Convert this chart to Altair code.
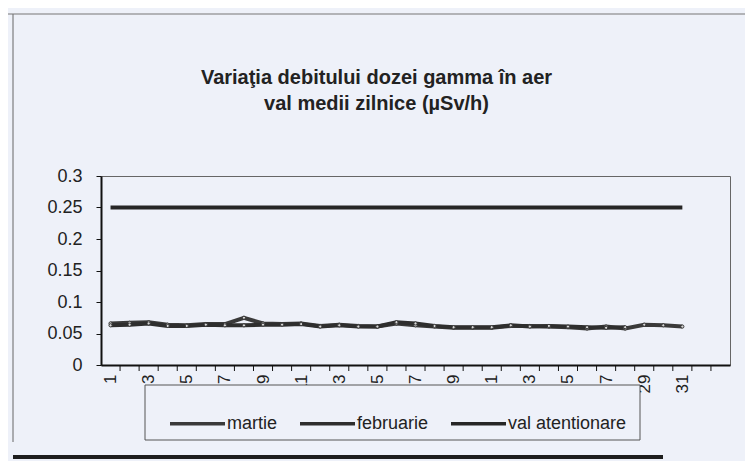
import altair as alt
import pandas as pd

# ---- data ----
series_names = ["martie", "februarie", "val atentionare"]
days = list(range(1, 32))
martie = [0.066, 0.067, 0.068, 0.064, 0.063, 0.065, 0.065, 0.075, 0.066, 0.065,
          0.066, 0.062, 0.064, 0.062, 0.061, 0.066, 0.063, 0.061, 0.059, 0.059,
          0.059, 0.062, 0.062, 0.061, 0.060, 0.058, 0.061, 0.058, 0.064, 0.063, 0.061]
februarie = [0.063, 0.064, 0.066, 0.062, 0.062, 0.064, 0.063, 0.063, 0.064, 0.064,
             0.065, 0.061, 0.063, 0.061, 0.061, 0.068, 0.066, 0.062, 0.060, 0.060,
             0.060, 0.063, 0.061, 0.062, 0.061, 0.060, 0.059, 0.060]
val_atentionare = [0.25, 0.25, 0.25, 0.25, 0.25, 0.25, 0.25, 0.25, 0.25, 0.25,
                   0.25, 0.25, 0.25, 0.25, 0.25, 0.25, 0.25, 0.25, 0.25, 0.25,
                   0.25, 0.25, 0.25, 0.25, 0.25, 0.25, 0.25, 0.25, 0.25, 0.25, 0.25]
x_label_values = [1, 3, 5, 7, 9, 11, 13, 15, 17, 19, 21, 23, 25, 27, 29, 31]
x_tick_bounds = [1.5, 2.5, 3.5, 4.5, 5.5, 6.5, 7.5, 8.5, 9.5, 10.5, 11.5, 12.5,
                 13.5, 14.5, 15.5, 16.5, 17.5, 18.5, 19.5, 20.5, 21.5, 22.5,
                 23.5, 24.5, 25.5, 26.5, 27.5, 28.5, 29.5, 30.5, 31.5, 32.5]
x_domain = [0.5, 33.5]
y_ticks = [0, 0.05, 0.1, 0.15, 0.2, 0.25, 0.3]
title_lines = ["Variaţia debitului dozei gamma în aer", "val medii zilnice (µSv/h)"]

# ---- tables ----
rows = []
for d, v in zip(days, martie):
    rows.append({"zi": d, "valoare": v, "serie": "martie"})
for d, v in zip(days, februarie):
    rows.append({"zi": d, "valoare": v, "serie": "februarie"})
lines_df = pd.DataFrame(rows)
val_df = pd.DataFrame({"zi": days, "valoare": val_atentionare, "serie": "val atentionare"})
ticks_df = pd.DataFrame({"zi": x_tick_bounds})
one_df = pd.DataFrame({"k": [0]})

FONT = "Liberation Sans"
BG = "#eef1f9"
W, H = 629, 189

x_scale = alt.Scale(domain=x_domain, nice=False, zero=False)
y_scale = alt.Scale(domain=[0, 0.3], nice=False, zero=True)
color_scale = alt.Scale(domain=series_names, range=["#3a3a3a", "#2e2e2e", "#262626"])

x_axis = alt.Axis(values=x_label_values, ticks=False, labelAngle=270,
                  labelFontSize=17, labelPadding=9, grid=False,
                  labelOverlap=False, labelFlush=False,
                  domainColor="#111", domainWidth=2, labelColor="#222",
                  labelFont=FONT)
y_axis = alt.Axis(values=y_ticks, labelExpr="format(datum.value, '~g')",
                  tickSize=5, tickColor="#111", domainColor="#111",
                  domainWidth=2, labelFontSize=18, labelPadding=14,
                  labelOverlap=False, labelFlush=False,
                  grid=False, labelColor="#222", labelFont=FONT)

color_enc = alt.Color("serie:N", scale=color_scale, sort=series_names,
                      legend=alt.Legend(title=None, orient="none", direction="horizontal",
                                        legendX=67, legendY=218, symbolType="stroke",
                                        symbolSize=3025, symbolStrokeWidth=3.5,
                                        labelFontSize=18, labelFont=FONT, labelColor="#222",
                                        labelOffset=0, columnPadding=15, padding=0,
                                        zindex=1))

main_lines = alt.Chart(lines_df).mark_line(
    strokeWidth=4,
    point=alt.OverlayMarkDef(filled=True, size=10, fill="#d8d8d8", stroke="#333", strokeWidth=1),
).encode(
    x=alt.X("zi:Q", scale=x_scale, title=None, axis=x_axis),
    y=alt.Y("valoare:Q", scale=y_scale, title=None, axis=y_axis),
    color=color_enc, detail="serie:N")

val_line = alt.Chart(val_df).mark_line(strokeWidth=4).encode(
    x=alt.X("zi:Q", scale=x_scale, title=None, axis=x_axis),
    y=alt.Y("valoare:Q", scale=y_scale, title=None, axis=y_axis),
    color=alt.Color("serie:N", scale=color_scale, sort=series_names))

tick_marks = alt.Chart(ticks_df).mark_rule(color="#111", strokeWidth=1).encode(
    x=alt.X("zi:Q", scale=x_scale, title=None, axis=x_axis),
    y=alt.value(H), y2=alt.value(H + 6))

legend_box = alt.Chart(one_df).mark_rect(fill=BG, stroke="#555", strokeWidth=1).encode(
    x=alt.value(44), x2=alt.value(539), y=alt.value(209), y2=alt.value(264))

frame_left = alt.Chart(one_df).mark_rule(color="#666", strokeWidth=1).encode(
    x=alt.value(-88), y=alt.value(-162), y2=alt.value(266))
frame_top = alt.Chart(one_df).mark_rule(color="#777", strokeWidth=1.2).encode(
    x=alt.value(-93), x2=alt.value(644), y=alt.value(-162))
frame_bottom = alt.Chart(one_df).mark_rule(color="#1e1e1e", strokeWidth=4).encode(
    x=alt.value(-88), x2=alt.value(562), y=alt.value(281))

chart = alt.layer(
    frame_left, frame_top, frame_bottom, main_lines, val_line, tick_marks, legend_box
).properties(
    width=W, height=H,
    autosize=alt.AutoSizeParams(type="none"),
    padding={"left": 93, "top": 168, "right": 15, "bottom": 96},
    background=BG,
    title=alt.TitleParams(text=title_lines, font=FONT, fontSize=20, fontWeight="bold",
                          color="#222", anchor="middle", frame="group", dx=-39,
                          offset=0, dy=101, lineHeight=26),
).configure_view(stroke="#666", strokeWidth=1)

chart.save("out.html", embed_options={"renderer": "svg", "actions": False})
